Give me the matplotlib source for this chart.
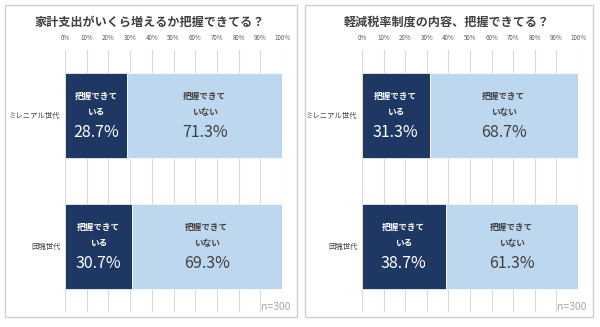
import matplotlib
matplotlib.use("Agg")
import matplotlib.pyplot as plt
from matplotlib.patches import Rectangle

plt.rcParams['font.family'] = ['Noto Sans CJK JP', 'DejaVu Sans']

titles = ["家計支出がいくら増えるか把握できてる？", "軽減税率制度の内容、把握できてる？"]
categories = ["ミレニアル世代", "団塊世代"]
known = [[28.7, 30.7], [31.3, 38.7]]
unknown = [[71.3, 69.3], [68.7, 61.3]]
ticks = [0, 10, 20, 30, 40, 50, 60, 70, 80, 90, 100]
tick_labels = [f"{t}%" for t in ticks]
known_label = "把握できて\nいる"
unknown_label = "把握できて\nいない"
n_label = "n=300"

W, H = 600, 327
fig = plt.figure(figsize=(6, 3.27), dpi=100)

dark = "#1f3763"
light = "#bdd7ee"
grid = "#d9d9d9"

panels = [
    dict(box=(5, 5, 297, 317), ax=(65, 282), title_x=150, n_x=290),
    dict(box=(305, 5, 593, 317), ax=(362, 578), title_x=447, n_x=586),
]

def fx(x):
    return x / W

def fy(y):
    return 1 - y / H

for i, p in enumerate(panels):
    x0, y0, x1, y1 = p["box"]
    fig.add_artist(Rectangle((fx(x0), fy(y1)), fx(x1 - x0), (y1 - y0) / H,
                             transform=fig.transFigure, fill=False,
                             edgecolor="#d0d0d0", linewidth=1.0))
    fig.text(fx(p["title_x"]), fy(22), titles[i], ha="center", va="center",
             fontsize=8.7, fontweight="bold", color="#404040")
    ax_left, ax_right = p["ax"]
    ax = fig.add_axes([fx(ax_left), fy(312), fx(ax_right - ax_left), (312 - 50) / H])
    ypos = list(range(len(categories)))
    ax.barh(ypos, known[i], height=0.65, color=dark, edgecolor="white", linewidth=0.5, zorder=3)
    ax.barh(ypos, unknown[i], left=known[i], height=0.65, color=light,
            edgecolor="white", linewidth=0.5, zorder=3)
    ax.set_xlim(0, 100)
    ax.set_ylim(1.5, -0.5)
    ax.set_xticks(ticks)
    ax.set_xticklabels(tick_labels)
    ax.xaxis.tick_top()
    ax.tick_params(axis="x", length=0, labelsize=4.5, labelcolor="#595959", pad=6)
    ax.set_yticks([])
    ax.grid(axis="x", color=grid, linewidth=0.8, zorder=0)
    for s in ax.spines.values():
        s.set_visible(False)
    for j, cat in enumerate(categories):
        k = known[i][j]
        u = unknown[i][j]
        ax.text(k / 2, j - 0.085, known_label, ha="center", va="center", color="white",
                fontsize=6.2, fontweight="bold", linespacing=2.1, zorder=4)
        ax.text(k / 2, j + 0.13, f"{k}%", ha="center", va="center", color="white",
                fontsize=11.5, zorder=4)
        ax.text(k + u / 2, j - 0.085, unknown_label, ha="center", va="center", color="#404040",
                fontsize=6.2, fontweight="bold", linespacing=2.1, zorder=4)
        ax.text(k + u / 2, j + 0.13, f"{u}%", ha="center", va="center", color="#404040",
                fontsize=11.5, zorder=4)
        ax.text(-0.02, j, cat, transform=ax.get_yaxis_transform(), ha="right", va="center",
                fontsize=5.3, color="#404040")
    fig.text(fx(p["n_x"]), fy(307), n_label, ha="right", va="center",
             fontsize=7.5, color="#a6a6a6")

fig.savefig("out.png", dpi=100)
